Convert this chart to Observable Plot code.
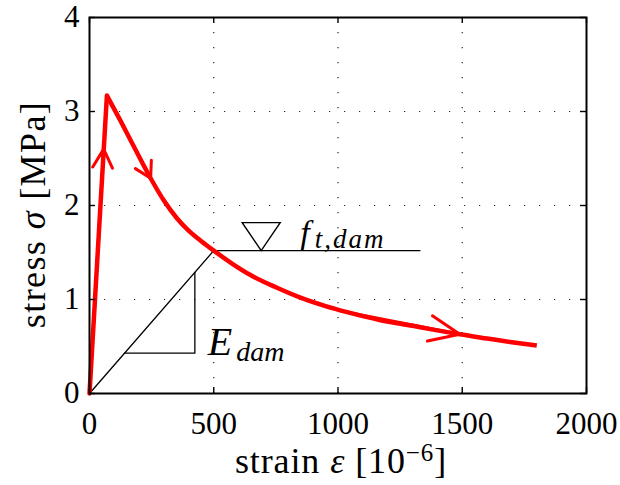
<!DOCTYPE html>
<html>
<head>
<meta charset="utf-8">
<script src="https://cdn.jsdelivr.net/npm/d3@7"></script>
<script src="https://cdn.jsdelivr.net/npm/@observablehq/plot@0.6"></script>
<style>
  body { margin: 0; background: #fff; }
  svg { display: block; }
</style>
</head>
<body>
<script>
// Uniaxial tension response: linear rise to the peak, then softening branch
const strain = [0, 70, 125, 180, 246, 300, 350, 400, 450, 500, 575, 648, 750, 849, 950, 1037, 1171, 1300, 1372, 1490, 1600, 1700, 1800];
const stress = [0, 3.17, 2.90, 2.62, 2.29, 2.05, 1.87, 1.73, 1.62, 1.52, 1.38, 1.26, 1.13, 1.02, 0.93, 0.865, 0.78, 0.72, 0.685, 0.63, 0.585, 0.545, 0.51];

// Loading-direction arrows drawn along the curve (tail -> tip)
const arrowTailStrain = [0, 125, 1037];
const arrowTailStress = [0, 2.90, 0.865];
const arrowTipStrain = [57, 246, 1490];
const arrowTipStress = [2.6, 2.29, 0.63];

// Damaged tensile strength level and damaged stiffness construction
const ftDam = 1.52;
const ftStrain = [500, 1330];   // extent of the f_t,dam level line
const ftMarkerStrain = 691;      // inverted-triangle marker on the level
const slopeStrain = [141, 424];  // legs of the stiffness slope triangle

const xTicks = [0, 500, 1000, 1500, 2000];
const yTicks = [0, 1, 2, 3, 4];

// Layout
const W = 620, H = 485;
const mL = 89, mR = 34, mT = 17, mB = 92;
const pw = W - mL - mR, ph = H - mT - mB;
const tickLen = 6;
const RED = "#ff0000";
const SERIF = "Liberation Serif";

const curve = strain.map((x, i) => ({x, y: stress[i]}));
const peak = stress.indexOf(d3.max(stress));
const rising = curve.slice(0, peak + 1);
const softening = curve.slice(peak);

const arrows = arrowTipStrain.map((x2, i) => ({
  x1: arrowTailStrain[i], y1: arrowTailStress[i], x2, y2: arrowTipStress[i]
}));
const heads = [
  {headLength: 10.5, headAngle: 56},
  {headLength: 9, headAngle: 60},
  {headLength: 16.5, headAngle: 46}
];

const eDam = ftDam / ftStrain[0];
const stiffness = [
  {x: 0, y: 0},
  {x: ftStrain[0], y: ftDam},
  {x: ftStrain[1], y: ftDam}
];
const [sa, sb] = slopeStrain;
const slopeTri = [
  {x: sa, y: eDam * sa},
  {x: sb, y: eDam * sa},
  {x: sb, y: eDam * sb}
];

// ▽ with its apex at the anchor point
const downTriangle = {
  draw(ctx) {
    ctx.moveTo(0, 0);
    ctx.lineTo(-19, -28);
    ctx.lineTo(19, -28);
    ctx.closePath();
  }
};

const dotted = {stroke: "#000", strokeOpacity: 0.85, strokeWidth: 1.2, strokeDasharray: "1.2,13.8"};
const tickStyle = {stroke: "#000", strokeWidth: 1.4};

const svg = Plot.plot({
  width: W,
  height: H,
  marginLeft: mL,
  marginRight: mR,
  marginTop: mT,
  marginBottom: mB,
  style: {fontFamily: `'${SERIF}', serif`, background: "#fff", color: "#000"},
  x: {domain: [0, 2000], label: null},
  y: {domain: [0, 4], label: null},
  marks: [
    // dotted grid
    Plot.ruleX(xTicks.slice(1, -1), {x: d => d, ...dotted}),
    Plot.ruleY(yTicks.slice(1, -1), {y: d => d, ...dotted}),

    // stiffness line and f_t,dam level
    Plot.line(stiffness, {x: "x", y: "y", stroke: "#000", strokeWidth: 1.3}),
    Plot.line(slopeTri, {x: "x", y: "y", stroke: "#000", strokeWidth: 1.3}),
    Plot.dot([{x: ftMarkerStrain, y: ftDam}], {
      x: "x", y: "y", r: 1, symbol: downTriangle,
      stroke: "#000", strokeWidth: 1.4, fill: "none"
    }),

    // direction arrows
    ...arrows.map((a, i) => Plot.arrow([a], {
      x1: "x1", y1: "y1", x2: "x2", y2: "y2",
      stroke: RED, strokeWidth: 3, ...heads[i]
    })),

    // stress-strain curve
    Plot.line(rising, {x: "x", y: "y", stroke: RED, strokeWidth: 4.5, strokeLinecap: "round"}),
    Plot.line(softening, {x: "x", y: "y", stroke: RED, strokeWidth: 4.5, curve: "monotone-x", strokeLinecap: "butt"}),

    // box with inward ticks on all sides
    Plot.frame({stroke: "#000", strokeWidth: 2}),
    Plot.tickX(xTicks, {x: d => d, insetTop: ph - tickLen, ...tickStyle}),
    Plot.tickX(xTicks, {x: d => d, insetBottom: ph - tickLen, ...tickStyle}),
    Plot.tickY(yTicks, {y: d => d, insetRight: pw - tickLen, ...tickStyle}),
    Plot.tickY(yTicks, {y: d => d, insetLeft: pw - tickLen, ...tickStyle}),

    // tick labels
    Plot.axisX({ticks: xTicks, tickSize: 0, tickPadding: 18, fontSize: 31, tickFormat: d => String(d), label: null}),
    Plot.axisY({ticks: yTicks, tickSize: 0, tickPadding: 10, fontSize: 31, tickFormat: d => String(d), label: null}),

    // axis titles
    Plot.text(["strain"], {frameAnchor: "bottom", textAnchor: "middle", dx: 3, dy: 79, lineAnchor: "bottom", fontSize: 36}),
    Plot.text(["stress"], {frameAnchor: "left", textAnchor: "middle", rotate: -90, dx: -45, dy: 9, lineAnchor: "bottom", fontSize: 36}),

    // annotations
    Plot.text([{x: ftMarkerStrain, y: ftDam}], {
      x: "x", y: "y", text: () => "f", textAnchor: "start", lineAnchor: "bottom",
      dx: 39, dy: -7, fontSize: 34
    }),
    Plot.text([{x: sb, y: eDam * sa}], {
      x: "x", y: "y", text: () => "E", textAnchor: "start", lineAnchor: "bottom",
      dx: 13, dy: 2, fontSize: 40
    })
  ]
});

// Rebuild a text element from styled runs (italic, sub/superscript)
function richText(content, runs, spacing = 0) {
  const t = Array.from(svg.querySelectorAll("text")).find(el => el.textContent === content);
  if (!t) return;
  t.textContent = "";
  t.setAttribute("font-family", SERIF);
  if (spacing) t.setAttribute("letter-spacing", spacing);
  let shift = 0;
  for (const r of runs) {
    const s = document.createElementNS("http://www.w3.org/2000/svg", "tspan");
    s.textContent = r.text;
    s.setAttribute("font-family", SERIF);
    if (r.italic) s.setAttribute("font-style", "italic");
    if (r.size) s.setAttribute("font-size", r.size);
    if (r.spacing != null) s.setAttribute("letter-spacing", r.spacing);
    const target = r.shift || 0;
    if (target !== shift) s.setAttribute("dy", target - shift);
    shift = target;
    t.appendChild(s);
  }
}

richText("strain", [
  {text: "strain "},
  {text: "ε", italic: true},
  {text: " [10"},
  {text: "−6", size: 25, shift: -12},
  {text: "]"}
], 0.9);
richText("stress", [
  {text: "stress "},
  {text: "σ", italic: true},
  {text: " [MPa]"}
], 1.4);
richText("f", [
  {text: "f", italic: true, spacing: 5},
  {text: "t,dam", italic: true, size: 27, shift: 4, spacing: 2}
]);
richText("E", [
  {text: "E", italic: true, spacing: 4},
  {text: "dam", italic: true, size: 28, shift: 6}
]);

document.body.appendChild(svg);
</script>
</body>
</html>
